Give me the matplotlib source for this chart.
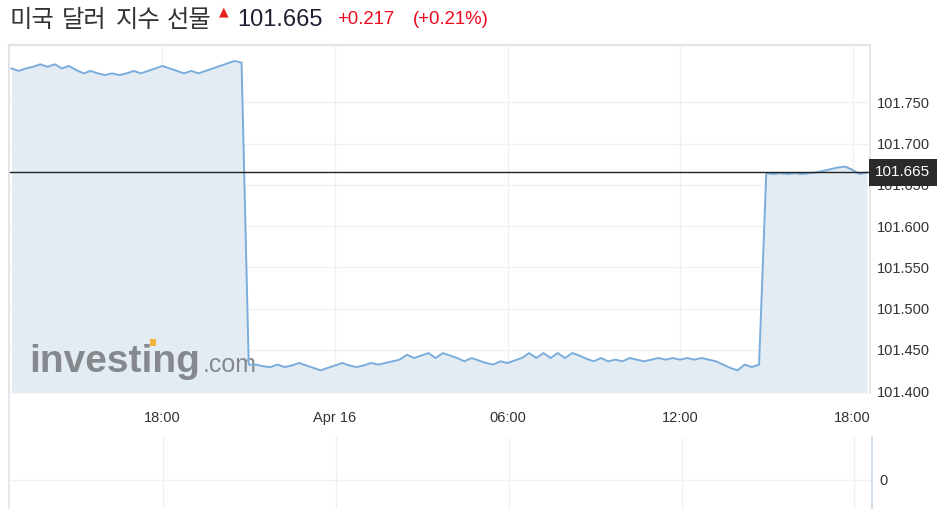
import matplotlib
matplotlib.use("Agg")
import matplotlib.pyplot as plt
import matplotlib.lines as mlines
import matplotlib.patches as mpatches
import numpy as np
import pandas as pd

# 15-minute closes, Apr 15 12:45 -> Apr 16 18:30
start_time = "2022-04-15 12:45"
old_contract = [101.791, 101.788, 101.791, 101.793, 101.796, 101.793, 101.796, 101.791,
                101.794, 101.789, 101.785, 101.788, 101.785, 101.783, 101.785, 101.783,
                101.785, 101.788, 101.785, 101.788, 101.791, 101.794, 101.791, 101.788,
                101.785, 101.788, 101.785, 101.788, 101.791, 101.794, 101.797, 101.800,
                101.798]
overnight = [101.432, 101.432, 101.430, 101.429, 101.432, 101.429, 101.431, 101.434,
             101.431, 101.428, 101.425, 101.428, 101.431, 101.434, 101.431, 101.429,
             101.431, 101.434, 101.432, 101.434, 101.436, 101.438, 101.444, 101.440,
             101.443, 101.446, 101.440, 101.446, 101.443, 101.440, 101.436, 101.440,
             101.437, 101.434, 101.432, 101.436, 101.434, 101.437, 101.440, 101.446,
             101.440, 101.446, 101.440, 101.446, 101.440, 101.446, 101.443, 101.439,
             101.436, 101.440, 101.436, 101.438, 101.436, 101.440, 101.438, 101.436,
             101.438, 101.440, 101.438, 101.440, 101.438, 101.440, 101.438, 101.440,
             101.438, 101.436, 101.432, 101.428, 101.425, 101.432, 101.429, 101.432]
late = [101.664, 101.663, 101.664, 101.663, 101.664, 101.663, 101.664, 101.665,
        101.667, 101.669, 101.671, 101.672, 101.668, 101.663, 101.665]

last_price = 101.665
change = "+0.217"
change_pct = "(+0.21%)"
title = "미국 달러 지수 선물"

y_ticks = [101.400, 101.450, 101.500, 101.550, 101.600, 101.650, 101.700, 101.750]
x_tick_times = ["2022-04-15 18:00", "2022-04-16 00:00", "2022-04-16 06:00",
                "2022-04-16 12:00", "2022-04-16 18:00"]
x_tick_labels = ["18:00", "Apr 16", "06:00", "12:00", "18:00"]

values = old_contract + overnight + late
times = pd.date_range(start_time, periods=len(values), freq="15min")

W, H = 942, 509
fig = plt.figure(figsize=(W / 100, H / 100), dpi=100)
fig.patch.set_facecolor("white")

def box(x0, y0, x1, y1):
    return [x0 / W, 1 - y1 / H, (x1 - x0) / W, (y1 - y0) / H]

line_c = "#7aaddb"
fill_c = "#e4ecf3"
grid_c = "#f1f1f1"
border_c = "#e3e3ea"
text_c = "#333333"
ymin, ymax = 101.3976, 101.8194
xmin = pd.Timestamp("2022-04-15 12:39:40")
xmax = pd.Timestamp("2022-04-16 18:36:30")

ax = fig.add_axes(box(9, 45, 870, 393))
ax.fill_between(times, values, ymin, color=fill_c, lw=0, zorder=1)
ax.plot(times, values, color=line_c, lw=1.4, zorder=3)
ax.axhline(last_price, color="#222222", lw=1, zorder=4)
ax.set_xlim(xmin, xmax)
ax.set_ylim(ymin, ymax)

ax.set_yticks(y_ticks)
ax.set_yticklabels([f"{v:.3f}" for v in y_ticks])
ax.yaxis.tick_right()
ax.set_xticks(pd.to_datetime(x_tick_times))
ax.set_xticklabels(x_tick_labels)
ax.tick_params(axis="y", length=0, pad=5, labelsize=10.5, labelcolor=text_c)
ax.tick_params(axis="x", length=0, pad=13, labelsize=10.5, labelcolor=text_c)
for lab in ax.get_xticklabels() + ax.get_yticklabels():
    lab.set_fontfamily("Liberation Sans")
ax.grid(True, color=grid_c, lw=1, zorder=0)
ax.set_axisbelow(True)
ax.spines["bottom"].set_visible(False)
for s in ("top", "left", "right"):
    ax.spines[s].set_color(border_c)
ax.spines["top"].set_linewidth(1.6)
ax.spines["left"].set_linewidth(1.2)
ax.spines["right"].set_linewidth(1.2)

# current price tag
ax.text(1.006, last_price, f"{last_price:.3f}", transform=ax.get_yaxis_transform(),
        ha="left", va="center", color="white", fontsize=11, family="Liberation Sans",
        bbox=dict(boxstyle="square,pad=0.42", fc="#2b2b2b", ec="none"),
        clip_on=False, zorder=6)

# watermark
ax.text(0.024, 0.06, "investing", transform=ax.transAxes, fontsize=28,
        fontweight="bold", family="Liberation Sans", color="#85898d", zorder=2)
ax.text(0.2245, 0.06, ".com", transform=ax.transAxes, fontsize=18,
        family="Liberation Sans", color="#85898d", zorder=2)
fig.patches.append(mpatches.Rectangle((150 / W, 1 - 346 / H), 6 / W, 7 / H,
                                      transform=fig.transFigure, fc="#f0b43c",
                                      ec="none", zorder=5))

# volume panel
ax2 = fig.add_axes(box(9, 437, 872, 512))
ax2.set_xlim(xmin, xmax)
ax2.set_ylim(-32, 43)
ax2.set_xticks(pd.to_datetime(x_tick_times))
ax2.set_xticklabels([])
ax2.set_yticks([0])
ax2.yaxis.tick_right()
ax2.tick_params(length=0, pad=5, labelsize=10.5, labelcolor=text_c)
for lab in ax2.get_yticklabels():
    lab.set_fontfamily("Liberation Sans")
ax2.grid(True, color=grid_c, lw=1)
for s in ("top", "bottom", "left"):
    ax2.spines[s].set_visible(False)
ax2.spines["right"].set_color("#c8d8ea")
ax2.spines["right"].set_linewidth(1.2)

fig.lines.append(mlines.Line2D([9 / W, 9 / W], [1 - 45 / H, 0],
                               transform=fig.transFigure, color=border_c, lw=1.2))

# header: the title words sit a bit further apart than the font's spaces
for word, x in zip(title.split(), [9, 62, 116, 167]):
    fig.text(x / W, 1 - 20 / H, word, family="Noto Sans CJK KR", fontsize=17.5,
             color="#333333", va="center", ha="left")
fig.text(224 / W, 1 - 12 / H, "▲", family="DejaVu Sans", fontsize=9,
         color="#e8201c", va="center", ha="center")
fig.text(237 / W, 1 - 20 / H, f"{last_price:.3f}", family="Liberation Sans",
         fontsize=17, color="#1f1f33", va="center", ha="left")
fig.text(337 / W, 1 - 20 / H, change, family="Liberation Sans", fontsize=13.4,
         color="#ee0a1e", va="center", ha="left")
fig.text(413 / W, 1 - 20 / H, change_pct, family="Liberation Sans", fontsize=13.4,
         color="#ee0a1e", va="center", ha="left")

fig.savefig("out.png", dpi=100)
